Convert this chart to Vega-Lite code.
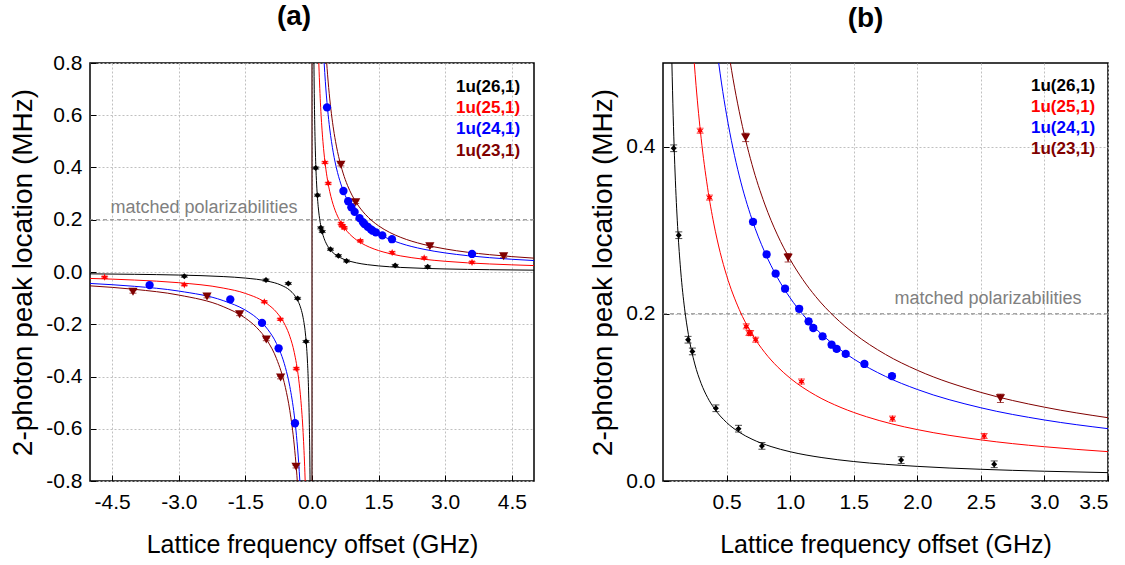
{
  "$schema": "https://vega.github.io/schema/vega-lite/v6.json",
  "padding": {"left": 9, "top": 2, "right": 0, "bottom": 0},
  "spacing": 52,
  "datasets": {
    "pts": [
      {"s": "1u(26,1)", "x": -2.876, "y": -0.016, "lo": -0.020, "hi": -0.012},
      {"s": "1u(26,1)", "x": -1.036, "y": -0.031, "lo": -0.035, "hi": -0.027},
      {"s": "1u(26,1)", "x": -0.534, "y": -0.044, "lo": -0.048, "hi": -0.040},
      {"s": "1u(26,1)", "x": -0.324, "y": -0.101, "lo": -0.105, "hi": -0.097},
      {"s": "1u(26,1)", "x": -0.135, "y": -0.266, "lo": -0.270, "hi": -0.262},
      {"s": "1u(26,1)", "x": 0.084, "y": 0.398, "lo": 0.394, "hi": 0.402},
      {"s": "1u(26,1)", "x": 0.124, "y": 0.294, "lo": 0.290, "hi": 0.298},
      {"s": "1u(26,1)", "x": 0.197, "y": 0.169, "lo": 0.165, "hi": 0.173},
      {"s": "1u(26,1)", "x": 0.231, "y": 0.155, "lo": 0.151, "hi": 0.159},
      {"s": "1u(26,1)", "x": 0.416, "y": 0.087, "lo": 0.083, "hi": 0.091},
      {"s": "1u(26,1)", "x": 0.594, "y": 0.0626, "lo": 0.0586, "hi": 0.0666},
      {"s": "1u(26,1)", "x": 0.778, "y": 0.042, "lo": 0.038, "hi": 0.046},
      {"s": "1u(26,1)", "x": 1.873, "y": 0.025, "lo": 0.021, "hi": 0.029},
      {"s": "1u(26,1)", "x": 2.605, "y": 0.020, "lo": 0.016, "hi": 0.024},
      {"s": "1u(25,1)", "x": -4.671, "y": -0.020, "lo": -0.023, "hi": -0.017},
      {"s": "1u(25,1)", "x": -2.876, "y": -0.049, "lo": -0.052, "hi": -0.046},
      {"s": "1u(25,1)", "x": -1.074, "y": -0.114, "lo": -0.117, "hi": -0.111},
      {"s": "1u(25,1)", "x": -0.714, "y": -0.181, "lo": -0.184, "hi": -0.178},
      {"s": "1u(25,1)", "x": -0.354, "y": -0.370, "lo": -0.373, "hi": -0.367},
      {"s": "1u(25,1)", "x": 0.292, "y": 0.419, "lo": 0.416, "hi": 0.422},
      {"s": "1u(25,1)", "x": 0.366, "y": 0.339, "lo": 0.336, "hi": 0.342},
      {"s": "1u(25,1)", "x": 0.655, "y": 0.185, "lo": 0.182, "hi": 0.188},
      {"s": "1u(25,1)", "x": 0.676, "y": 0.177, "lo": 0.174, "hi": 0.180},
      {"s": "1u(25,1)", "x": 0.689, "y": 0.177, "lo": 0.174, "hi": 0.180},
      {"s": "1u(25,1)", "x": 0.729, "y": 0.169, "lo": 0.166, "hi": 0.172},
      {"s": "1u(25,1)", "x": 1.089, "y": 0.119, "lo": 0.116, "hi": 0.122},
      {"s": "1u(25,1)", "x": 1.805, "y": 0.0746, "lo": 0.0716, "hi": 0.0776},
      {"s": "1u(25,1)", "x": 2.526, "y": 0.0538, "lo": 0.0508, "hi": 0.0568},
      {"s": "1u(25,1)", "x": 3.604, "y": 0.037, "lo": 0.034, "hi": 0.040},
      {"s": "1u(24,1)", "x": -3.658, "y": -0.050, "lo": -0.053, "hi": -0.047},
      {"s": "1u(24,1)", "x": -1.84, "y": -0.105, "lo": -0.108, "hi": -0.102},
      {"s": "1u(24,1)", "x": -1.126, "y": -0.195, "lo": -0.198, "hi": -0.192},
      {"s": "1u(24,1)", "x": -0.752, "y": -0.292, "lo": -0.295, "hi": -0.289},
      {"s": "1u(24,1)", "x": -0.383, "y": -0.579, "lo": -0.582, "hi": -0.576},
      {"s": "1u(24,1)", "x": 0.338, "y": 0.630, "lo": 0.627, "hi": 0.633},
      {"s": "1u(24,1)", "x": 0.708, "y": 0.310, "lo": 0.307, "hi": 0.313},
      {"s": "1u(24,1)", "x": 0.815, "y": 0.271, "lo": 0.268, "hi": 0.274},
      {"s": "1u(24,1)", "x": 0.886, "y": 0.248, "lo": 0.245, "hi": 0.251},
      {"s": "1u(24,1)", "x": 0.960, "y": 0.230, "lo": 0.227, "hi": 0.233},
      {"s": "1u(24,1)", "x": 1.071, "y": 0.206, "lo": 0.203, "hi": 0.209},
      {"s": "1u(24,1)", "x": 1.145, "y": 0.191, "lo": 0.188, "hi": 0.194},
      {"s": "1u(24,1)", "x": 1.182, "y": 0.183, "lo": 0.180, "hi": 0.186},
      {"s": "1u(24,1)", "x": 1.255, "y": 0.173, "lo": 0.170, "hi": 0.176},
      {"s": "1u(24,1)", "x": 1.326, "y": 0.163, "lo": 0.160, "hi": 0.166},
      {"s": "1u(24,1)", "x": 1.366, "y": 0.158, "lo": 0.155, "hi": 0.161},
      {"s": "1u(24,1)", "x": 1.437, "y": 0.152, "lo": 0.149, "hi": 0.155},
      {"s": "1u(24,1)", "x": 1.584, "y": 0.140, "lo": 0.137, "hi": 0.143},
      {"s": "1u(24,1)", "x": 1.801, "y": 0.1255, "lo": 0.1225, "hi": 0.1285},
      {"s": "1u(24,1)", "x": 3.604, "y": 0.069, "lo": 0.066, "hi": 0.072},
      {"s": "1u(23,1)", "x": -4.032, "y": -0.076, "lo": -0.081, "hi": -0.071},
      {"s": "1u(23,1)", "x": -2.365, "y": -0.094, "lo": -0.099, "hi": -0.089},
      {"s": "1u(23,1)", "x": -1.63, "y": -0.162, "lo": -0.167, "hi": -0.157},
      {"s": "1u(23,1)", "x": -1.029, "y": -0.258, "lo": -0.263, "hi": -0.253},
      {"s": "1u(23,1)", "x": -0.707, "y": -0.404, "lo": -0.409, "hi": -0.399},
      {"s": "1u(23,1)", "x": -0.36, "y": -0.745, "lo": -0.750, "hi": -0.740},
      {"s": "1u(23,1)", "x": 0.650, "y": 0.411, "lo": 0.406, "hi": 0.416},
      {"s": "1u(23,1)", "x": 0.984, "y": 0.267, "lo": 0.262, "hi": 0.272},
      {"s": "1u(23,1)", "x": 2.654, "y": 0.0989, "lo": 0.0939, "hi": 0.1039},
      {"s": "1u(23,1)", "x": 4.316, "y": 0.060, "lo": 0.055, "hi": 0.065}
    ],
    "fit": [
      {"s": "1u(26,1)", "b": "p", "x": 0.04375, "y": 0.8},
      {"s": "1u(26,1)", "b": "p", "x": 0.05, "y": 0.7},
      {"s": "1u(26,1)", "b": "p", "x": 0.06, "y": 0.5833},
      {"s": "1u(26,1)", "b": "p", "x": 0.07, "y": 0.5},
      {"s": "1u(26,1)", "b": "p", "x": 0.08, "y": 0.4375},
      {"s": "1u(26,1)", "b": "p", "x": 0.09, "y": 0.3889},
      {"s": "1u(26,1)", "b": "p", "x": 0.1, "y": 0.35},
      {"s": "1u(26,1)", "b": "p", "x": 0.12, "y": 0.2917},
      {"s": "1u(26,1)", "b": "p", "x": 0.14, "y": 0.25},
      {"s": "1u(26,1)", "b": "p", "x": 0.17, "y": 0.2059},
      {"s": "1u(26,1)", "b": "p", "x": 0.2, "y": 0.175},
      {"s": "1u(26,1)", "b": "p", "x": 0.25, "y": 0.14},
      {"s": "1u(26,1)", "b": "p", "x": 0.3, "y": 0.1167},
      {"s": "1u(26,1)", "b": "p", "x": 0.35, "y": 0.1},
      {"s": "1u(26,1)", "b": "p", "x": 0.4, "y": 0.0875},
      {"s": "1u(26,1)", "b": "p", "x": 0.5, "y": 0.07},
      {"s": "1u(26,1)", "b": "p", "x": 0.6, "y": 0.0583},
      {"s": "1u(26,1)", "b": "p", "x": 0.7, "y": 0.05},
      {"s": "1u(26,1)", "b": "p", "x": 0.85, "y": 0.0412},
      {"s": "1u(26,1)", "b": "p", "x": 1.0, "y": 0.035},
      {"s": "1u(26,1)", "b": "p", "x": 1.25, "y": 0.028},
      {"s": "1u(26,1)", "b": "p", "x": 1.5, "y": 0.0233},
      {"s": "1u(26,1)", "b": "p", "x": 2.0, "y": 0.0175},
      {"s": "1u(26,1)", "b": "p", "x": 2.5, "y": 0.014},
      {"s": "1u(26,1)", "b": "p", "x": 3.0, "y": 0.0117},
      {"s": "1u(26,1)", "b": "p", "x": 3.5, "y": 0.01},
      {"s": "1u(26,1)", "b": "p", "x": 4.0, "y": 0.0088},
      {"s": "1u(26,1)", "b": "p", "x": 5.0, "y": 0.007},
      {"s": "1u(26,1)", "b": "n", "x": -0.04375, "y": -0.8},
      {"s": "1u(26,1)", "b": "n", "x": -0.05, "y": -0.7},
      {"s": "1u(26,1)", "b": "n", "x": -0.06, "y": -0.5833},
      {"s": "1u(26,1)", "b": "n", "x": -0.08, "y": -0.4375},
      {"s": "1u(26,1)", "b": "n", "x": -0.1, "y": -0.35},
      {"s": "1u(26,1)", "b": "n", "x": -0.12, "y": -0.2917},
      {"s": "1u(26,1)", "b": "n", "x": -0.15, "y": -0.2333},
      {"s": "1u(26,1)", "b": "n", "x": -0.2, "y": -0.175},
      {"s": "1u(26,1)", "b": "n", "x": -0.25, "y": -0.14},
      {"s": "1u(26,1)", "b": "n", "x": -0.3, "y": -0.1167},
      {"s": "1u(26,1)", "b": "n", "x": -0.4, "y": -0.0875},
      {"s": "1u(26,1)", "b": "n", "x": -0.5, "y": -0.07},
      {"s": "1u(26,1)", "b": "n", "x": -0.7, "y": -0.05},
      {"s": "1u(26,1)", "b": "n", "x": -1.0, "y": -0.035},
      {"s": "1u(26,1)", "b": "n", "x": -1.5, "y": -0.0233},
      {"s": "1u(26,1)", "b": "n", "x": -2.0, "y": -0.0175},
      {"s": "1u(26,1)", "b": "n", "x": -3.0, "y": -0.0117},
      {"s": "1u(26,1)", "b": "n", "x": -4.0, "y": -0.0088},
      {"s": "1u(26,1)", "b": "n", "x": -5.0, "y": -0.007},
      {"s": "1u(25,1)", "b": "p", "x": 0.15375, "y": 0.8},
      {"s": "1u(25,1)", "b": "p", "x": 0.16, "y": 0.7688},
      {"s": "1u(25,1)", "b": "p", "x": 0.18, "y": 0.6833},
      {"s": "1u(25,1)", "b": "p", "x": 0.2, "y": 0.615},
      {"s": "1u(25,1)", "b": "p", "x": 0.22, "y": 0.5591},
      {"s": "1u(25,1)", "b": "p", "x": 0.246, "y": 0.5},
      {"s": "1u(25,1)", "b": "p", "x": 0.26, "y": 0.4731},
      {"s": "1u(25,1)", "b": "p", "x": 0.3, "y": 0.41},
      {"s": "1u(25,1)", "b": "p", "x": 0.35, "y": 0.3514},
      {"s": "1u(25,1)", "b": "p", "x": 0.4, "y": 0.3075},
      {"s": "1u(25,1)", "b": "p", "x": 0.45, "y": 0.2733},
      {"s": "1u(25,1)", "b": "p", "x": 0.5, "y": 0.246},
      {"s": "1u(25,1)", "b": "p", "x": 0.6, "y": 0.205},
      {"s": "1u(25,1)", "b": "p", "x": 0.7, "y": 0.1757},
      {"s": "1u(25,1)", "b": "p", "x": 0.8, "y": 0.1538},
      {"s": "1u(25,1)", "b": "p", "x": 0.9, "y": 0.1367},
      {"s": "1u(25,1)", "b": "p", "x": 1.0, "y": 0.123},
      {"s": "1u(25,1)", "b": "p", "x": 1.2, "y": 0.1025},
      {"s": "1u(25,1)", "b": "p", "x": 1.4, "y": 0.0879},
      {"s": "1u(25,1)", "b": "p", "x": 1.6, "y": 0.0769},
      {"s": "1u(25,1)", "b": "p", "x": 1.8, "y": 0.0683},
      {"s": "1u(25,1)", "b": "p", "x": 2.0, "y": 0.0615},
      {"s": "1u(25,1)", "b": "p", "x": 2.5, "y": 0.0492},
      {"s": "1u(25,1)", "b": "p", "x": 3.0, "y": 0.041},
      {"s": "1u(25,1)", "b": "p", "x": 3.5, "y": 0.0351},
      {"s": "1u(25,1)", "b": "p", "x": 4.0, "y": 0.0308},
      {"s": "1u(25,1)", "b": "p", "x": 5.0, "y": 0.0246},
      {"s": "1u(25,1)", "b": "n", "x": -0.15375, "y": -0.8},
      {"s": "1u(25,1)", "b": "n", "x": -0.16, "y": -0.7688},
      {"s": "1u(25,1)", "b": "n", "x": -0.2, "y": -0.615},
      {"s": "1u(25,1)", "b": "n", "x": -0.25, "y": -0.492},
      {"s": "1u(25,1)", "b": "n", "x": -0.3, "y": -0.41},
      {"s": "1u(25,1)", "b": "n", "x": -0.4, "y": -0.3075},
      {"s": "1u(25,1)", "b": "n", "x": -0.5, "y": -0.246},
      {"s": "1u(25,1)", "b": "n", "x": -0.6, "y": -0.205},
      {"s": "1u(25,1)", "b": "n", "x": -0.8, "y": -0.1538},
      {"s": "1u(25,1)", "b": "n", "x": -1.0, "y": -0.123},
      {"s": "1u(25,1)", "b": "n", "x": -1.5, "y": -0.082},
      {"s": "1u(25,1)", "b": "n", "x": -2.0, "y": -0.0615},
      {"s": "1u(25,1)", "b": "n", "x": -3.0, "y": -0.041},
      {"s": "1u(25,1)", "b": "n", "x": -4.0, "y": -0.0308},
      {"s": "1u(25,1)", "b": "n", "x": -5.0, "y": -0.0246},
      {"s": "1u(24,1)", "b": "p", "x": 0.27375, "y": 0.8},
      {"s": "1u(24,1)", "b": "p", "x": 0.3, "y": 0.73},
      {"s": "1u(24,1)", "b": "p", "x": 0.35, "y": 0.6257},
      {"s": "1u(24,1)", "b": "p", "x": 0.4, "y": 0.5475},
      {"s": "1u(24,1)", "b": "p", "x": 0.438, "y": 0.5},
      {"s": "1u(24,1)", "b": "p", "x": 0.46, "y": 0.4761},
      {"s": "1u(24,1)", "b": "p", "x": 0.5, "y": 0.438},
      {"s": "1u(24,1)", "b": "p", "x": 0.55, "y": 0.3982},
      {"s": "1u(24,1)", "b": "p", "x": 0.6, "y": 0.365},
      {"s": "1u(24,1)", "b": "p", "x": 0.7, "y": 0.3129},
      {"s": "1u(24,1)", "b": "p", "x": 0.8, "y": 0.2738},
      {"s": "1u(24,1)", "b": "p", "x": 0.9, "y": 0.2433},
      {"s": "1u(24,1)", "b": "p", "x": 1.0, "y": 0.219},
      {"s": "1u(24,1)", "b": "p", "x": 1.1, "y": 0.1991},
      {"s": "1u(24,1)", "b": "p", "x": 1.2, "y": 0.1825},
      {"s": "1u(24,1)", "b": "p", "x": 1.35, "y": 0.1622},
      {"s": "1u(24,1)", "b": "p", "x": 1.5, "y": 0.146},
      {"s": "1u(24,1)", "b": "p", "x": 1.75, "y": 0.1251},
      {"s": "1u(24,1)", "b": "p", "x": 2.0, "y": 0.1095},
      {"s": "1u(24,1)", "b": "p", "x": 2.5, "y": 0.0876},
      {"s": "1u(24,1)", "b": "p", "x": 3.0, "y": 0.073},
      {"s": "1u(24,1)", "b": "p", "x": 3.5, "y": 0.0626},
      {"s": "1u(24,1)", "b": "p", "x": 4.0, "y": 0.0548},
      {"s": "1u(24,1)", "b": "p", "x": 5.0, "y": 0.0438},
      {"s": "1u(24,1)", "b": "n", "x": -0.27375, "y": -0.8},
      {"s": "1u(24,1)", "b": "n", "x": -0.3, "y": -0.73},
      {"s": "1u(24,1)", "b": "n", "x": -0.35, "y": -0.6257},
      {"s": "1u(24,1)", "b": "n", "x": -0.4, "y": -0.5475},
      {"s": "1u(24,1)", "b": "n", "x": -0.5, "y": -0.438},
      {"s": "1u(24,1)", "b": "n", "x": -0.6, "y": -0.365},
      {"s": "1u(24,1)", "b": "n", "x": -0.8, "y": -0.2738},
      {"s": "1u(24,1)", "b": "n", "x": -1.0, "y": -0.219},
      {"s": "1u(24,1)", "b": "n", "x": -1.25, "y": -0.1752},
      {"s": "1u(24,1)", "b": "n", "x": -1.5, "y": -0.146},
      {"s": "1u(24,1)", "b": "n", "x": -2.0, "y": -0.1095},
      {"s": "1u(24,1)", "b": "n", "x": -3.0, "y": -0.073},
      {"s": "1u(24,1)", "b": "n", "x": -4.0, "y": -0.0548},
      {"s": "1u(24,1)", "b": "n", "x": -5.0, "y": -0.0438},
      {"s": "1u(23,1)", "b": "p", "x": 0.33125, "y": 0.8},
      {"s": "1u(23,1)", "b": "p", "x": 0.35, "y": 0.7571},
      {"s": "1u(23,1)", "b": "p", "x": 0.4, "y": 0.6625},
      {"s": "1u(23,1)", "b": "p", "x": 0.45, "y": 0.5889},
      {"s": "1u(23,1)", "b": "p", "x": 0.5, "y": 0.53},
      {"s": "1u(23,1)", "b": "p", "x": 0.53, "y": 0.5},
      {"s": "1u(23,1)", "b": "p", "x": 0.55, "y": 0.4818},
      {"s": "1u(23,1)", "b": "p", "x": 0.6, "y": 0.4417},
      {"s": "1u(23,1)", "b": "p", "x": 0.7, "y": 0.3786},
      {"s": "1u(23,1)", "b": "p", "x": 0.8, "y": 0.3313},
      {"s": "1u(23,1)", "b": "p", "x": 0.9, "y": 0.2944},
      {"s": "1u(23,1)", "b": "p", "x": 1.0, "y": 0.265},
      {"s": "1u(23,1)", "b": "p", "x": 1.1, "y": 0.2409},
      {"s": "1u(23,1)", "b": "p", "x": 1.2, "y": 0.2208},
      {"s": "1u(23,1)", "b": "p", "x": 1.35, "y": 0.1963},
      {"s": "1u(23,1)", "b": "p", "x": 1.5, "y": 0.1767},
      {"s": "1u(23,1)", "b": "p", "x": 1.75, "y": 0.1514},
      {"s": "1u(23,1)", "b": "p", "x": 2.0, "y": 0.1325},
      {"s": "1u(23,1)", "b": "p", "x": 2.5, "y": 0.106},
      {"s": "1u(23,1)", "b": "p", "x": 3.0, "y": 0.0883},
      {"s": "1u(23,1)", "b": "p", "x": 3.5, "y": 0.0757},
      {"s": "1u(23,1)", "b": "p", "x": 4.0, "y": 0.0663},
      {"s": "1u(23,1)", "b": "p", "x": 5.0, "y": 0.053},
      {"s": "1u(23,1)", "b": "n", "x": -0.33125, "y": -0.8},
      {"s": "1u(23,1)", "b": "n", "x": -0.35, "y": -0.7571},
      {"s": "1u(23,1)", "b": "n", "x": -0.4, "y": -0.6625},
      {"s": "1u(23,1)", "b": "n", "x": -0.5, "y": -0.53},
      {"s": "1u(23,1)", "b": "n", "x": -0.6, "y": -0.4417},
      {"s": "1u(23,1)", "b": "n", "x": -0.8, "y": -0.3313},
      {"s": "1u(23,1)", "b": "n", "x": -1.0, "y": -0.265},
      {"s": "1u(23,1)", "b": "n", "x": -1.25, "y": -0.212},
      {"s": "1u(23,1)", "b": "n", "x": -1.5, "y": -0.1767},
      {"s": "1u(23,1)", "b": "n", "x": -2.0, "y": -0.1325},
      {"s": "1u(23,1)", "b": "n", "x": -3.0, "y": -0.0883},
      {"s": "1u(23,1)", "b": "n", "x": -4.0, "y": -0.0663},
      {"s": "1u(23,1)", "b": "n", "x": -5.0, "y": -0.053}
    ],
    "legA": [
      {"s": "1u(26,1)", "x": 4.69, "y": 0.710},
      {"s": "1u(25,1)", "x": 4.69, "y": 0.628},
      {"s": "1u(24,1)", "x": 4.69, "y": 0.546},
      {"s": "1u(23,1)", "x": 4.69, "y": 0.464}
    ],
    "legB": [
      {"s": "1u(26,1)", "x": 3.40, "y": 0.472},
      {"s": "1u(25,1)", "x": 3.40, "y": 0.447},
      {"s": "1u(24,1)", "x": 3.40, "y": 0.422},
      {"s": "1u(23,1)", "x": 3.40, "y": 0.397}
    ]
  },
  "hconcat": [
    {
      "width": 444,
      "height": 418,
      "title": {"text": "(a)", "frame": "group", "dx": -18},
      "layer": [
        {
          "data": {"values": [{"label": "matched polarizabilities"}]},
          "mark": {"type": "rule", "color": "#808080", "strokeDash": [4, 3], "strokeWidth": 1},
          "encoding": {"y": {"datum": 0.2}}
        },
        {
          "data": {"values": [{"label": "asymptote"}]},
          "mark": {"type": "rule", "color": "#3a0000", "strokeWidth": 1.2},
          "encoding": {"x": {"datum": 0}}
        },
        {
          "data": {"name": "fit"},
          "transform": [{"filter": "abs(datum.y) <= 0.8"}],
          "mark": {"type": "line", "strokeWidth": 1, "interpolate": "monotone"},
          "encoding": {
            "x": {
              "field": "x", "type": "quantitative",
              "scale": {"domain": [-5, 5], "nice": false, "zero": false},
              "axis": {
                "title": "Lattice frequency offset (GHz)",
                "values": [-4.5, -3, -1.5, 0, 1.5, 3, 4.5],
                "labelExpr": "replace(format(datum.value, '.1f'), '\u2212', '-')"
              }
            },
            "y": {
              "field": "y", "type": "quantitative",
              "scale": {"domain": [-0.8, 0.8], "nice": false, "zero": false},
              "axis": {
                "title": "2-photon peak location (MHz)",
                "values": [-0.8, -0.6, -0.4, -0.2, 0, 0.2, 0.4, 0.6, 0.8],
                "labelExpr": "replace(format(datum.value, '.1f'), '\u2212', '-')"
              }
            },
            "color": {"field": "s", "type": "nominal", "legend": null,
              "scale": {"domain": ["1u(26,1)", "1u(25,1)", "1u(24,1)", "1u(23,1)"], "range": ["#000000", "#ff0000", "#0000ff", "#800000"]}},
            "detail": {"field": "b", "type": "nominal"}
          }
        },
        {
          "data": {"name": "pts"},
          "mark": {"type": "rule", "strokeWidth": 1},
          "encoding": {
            "x": {"field": "x", "type": "quantitative"},
            "y": {"field": "lo", "type": "quantitative"},
            "y2": {"field": "hi"},
            "color": {"field": "s", "type": "nominal", "legend": null}
          }
        },
        {
          "data": {"name": "pts"},
          "mark": {"type": "tick", "orient": "horizontal", "size": 7, "thickness": 1},
          "encoding": {
            "x": {"field": "x", "type": "quantitative"},
            "y": {"field": "lo", "type": "quantitative"},
            "color": {"field": "s", "type": "nominal", "legend": null}
          }
        },
        {
          "data": {"name": "pts"},
          "mark": {"type": "tick", "orient": "horizontal", "size": 7, "thickness": 1},
          "encoding": {
            "x": {"field": "x", "type": "quantitative"},
            "y": {"field": "hi", "type": "quantitative"},
            "color": {"field": "s", "type": "nominal", "legend": null}
          }
        },
        {
          "data": {"name": "pts"},
          "mark": {"type": "point", "filled": true, "opacity": 1},
          "encoding": {
            "x": {"field": "x", "type": "quantitative"},
            "y": {"field": "y", "type": "quantitative"},
            "color": {"field": "s", "type": "nominal", "legend": null},
            "shape": {"field": "s", "type": "nominal", "legend": null,
              "scale": {"domain": ["1u(26,1)", "1u(25,1)", "1u(24,1)", "1u(23,1)"], "range": ["diamond", "M0,-1L0.25,-0.433L0.866,-0.5L0.5,0L0.866,0.5L0.25,0.433L0,1L-0.25,0.433L-0.866,0.5L-0.5,0L-0.866,-0.5L-0.25,-0.433Z", "circle", "triangle-down"]}},
            "size": {"field": "s", "type": "nominal", "legend": null,
              "scale": {"domain": ["1u(26,1)", "1u(25,1)", "1u(24,1)", "1u(23,1)"], "range": [36, 85, 34, 45]}}
          }
        },
        {
          "data": {"values": [{"label": "matched polarizabilities"}]},
          "mark": {"type": "text", "align": "left", "baseline": "alphabetic", "fontSize": 18, "color": "#808080", "font": "Liberation Sans"},
          "encoding": {"x": {"datum": -4.54}, "y": {"datum": 0.226}, "text": {"field": "label"}}
        },
        {
          "data": {"name": "legA"},
          "mark": {"type": "text", "align": "right", "baseline": "middle", "fontSize": 17, "fontWeight": "bold", "font": "Liberation Sans"},
          "encoding": {
            "x": {"field": "x", "type": "quantitative"},
            "y": {"field": "y", "type": "quantitative"},
            "text": {"field": "s"},
            "color": {"field": "s", "type": "nominal", "legend": null}
          }
        }
      ]
    },
    {
      "width": 445,
      "height": 418,
      "title": {"text": "(b)", "frame": "group", "dx": -20, "dy": -7},
      "layer": [
        {
          "data": {"values": [{"label": "matched polarizabilities"}]},
          "mark": {"type": "rule", "color": "#808080", "strokeDash": [4, 3], "strokeWidth": 1},
          "encoding": {"y": {"datum": 0.2}}
        },
        {
          "data": {"name": "fit"},
          "transform": [{"filter": "datum.x > 0 && datum.x <= 3.5 && datum.y <= 0.5"}],
          "mark": {"type": "line", "strokeWidth": 1, "interpolate": "monotone"},
          "encoding": {
            "x": {
              "field": "x", "type": "quantitative",
              "scale": {"domain": [0, 3.5], "nice": false, "zero": false},
              "axis": {
                "title": "Lattice frequency offset (GHz)",
                "values": [0.5, 1, 1.5, 2, 2.5, 3, 3.5],
                "format": ".1f"
              }
            },
            "y": {
              "field": "y", "type": "quantitative",
              "scale": {"domain": [0, 0.5], "nice": false, "zero": false},
              "axis": {
                "title": "2-photon peak location (MHz)",
                "values": [0, 0.2, 0.4],
                "format": ".1f"
              }
            },
            "color": {"field": "s", "type": "nominal", "legend": null},
            "detail": {"field": "b", "type": "nominal"}
          }
        },
        {
          "data": {"name": "pts"},
          "transform": [{"filter": "datum.x > 0 && datum.x < 3.5 && datum.y < 0.5"}],
          "mark": {"type": "rule", "strokeWidth": 1},
          "encoding": {
            "x": {"field": "x", "type": "quantitative"},
            "y": {"field": "lo", "type": "quantitative"},
            "y2": {"field": "hi"},
            "color": {"field": "s", "type": "nominal", "legend": null}
          }
        },
        {
          "data": {"name": "pts"},
          "transform": [{"filter": "datum.x > 0 && datum.x < 3.5 && datum.y < 0.5"}],
          "mark": {"type": "tick", "orient": "horizontal", "size": 7, "thickness": 1},
          "encoding": {
            "x": {"field": "x", "type": "quantitative"},
            "y": {"field": "lo", "type": "quantitative"},
            "color": {"field": "s", "type": "nominal", "legend": null}
          }
        },
        {
          "data": {"name": "pts"},
          "transform": [{"filter": "datum.x > 0 && datum.x < 3.5 && datum.y < 0.5"}],
          "mark": {"type": "tick", "orient": "horizontal", "size": 7, "thickness": 1},
          "encoding": {
            "x": {"field": "x", "type": "quantitative"},
            "y": {"field": "hi", "type": "quantitative"},
            "color": {"field": "s", "type": "nominal", "legend": null}
          }
        },
        {
          "data": {"name": "pts"},
          "transform": [{"filter": "datum.x > 0 && datum.x < 3.5 && datum.y < 0.5"}],
          "mark": {"type": "point", "filled": true, "opacity": 1},
          "encoding": {
            "x": {"field": "x", "type": "quantitative"},
            "y": {"field": "y", "type": "quantitative"},
            "color": {"field": "s", "type": "nominal", "legend": null},
            "shape": {"field": "s", "type": "nominal", "legend": null},
            "size": {"field": "s", "type": "nominal", "legend": null}
          }
        },
        {
          "data": {"values": [{"label": "matched polarizabilities"}]},
          "mark": {"type": "text", "align": "left", "baseline": "alphabetic", "fontSize": 18, "color": "#808080", "font": "Liberation Sans"},
          "encoding": {"x": {"datum": 1.821}, "y": {"datum": 0.212}, "text": {"field": "label"}}
        },
        {
          "data": {"name": "legB"},
          "mark": {"type": "text", "align": "right", "baseline": "middle", "fontSize": 17, "fontWeight": "bold", "font": "Liberation Sans"},
          "encoding": {
            "x": {"field": "x", "type": "quantitative"},
            "y": {"field": "y", "type": "quantitative"},
            "text": {"field": "s"},
            "color": {"field": "s", "type": "nominal", "legend": null}
          }
        }
      ]
    }
  ],
  "config": {
    "view": {"stroke": "#000000", "strokeWidth": 1.5},
    "axis": {
      "domain": false, "grid": true, "labelOverlap": false,
      "labelFont": "Liberation Sans", "labelFontSize": 21, "labelColor": "#000000",
      "titleFont": "Liberation Sans", "titleFontWeight": "normal", "titleColor": "#000000",
      "tickColor": "#000000", "tickWidth": 1, "tickSize": -6,
      "gridColor": "#c0c0c0", "gridDash": [2, 2], "gridWidth": 1
    },
    "axisX": {"titleFontSize": 25, "labelPadding": 16, "titlePadding": 20},
    "axisY": {"titleFontSize": 28, "labelPadding": 14, "titlePadding": 8},
    "title": {"font": "Liberation Sans", "fontSize": 28, "fontWeight": "bold", "color": "#000000", "offset": 21}
  }
}
